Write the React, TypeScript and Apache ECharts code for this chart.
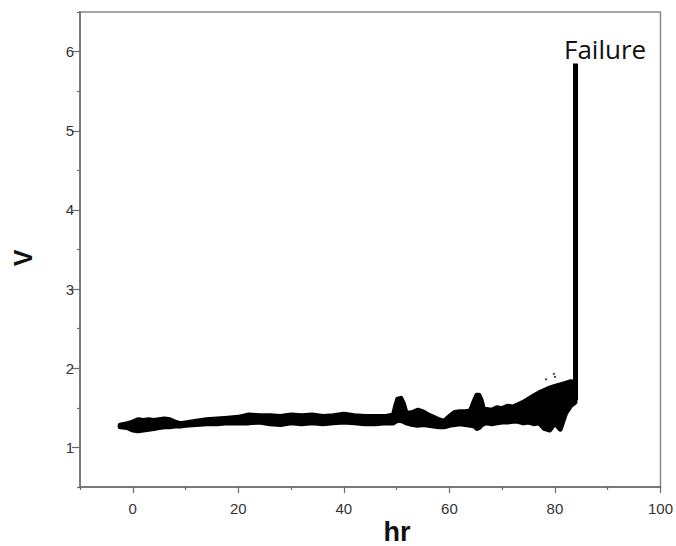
import React, { useEffect, useRef } from "react";
import * as echarts from "echarts";

// hr positions of the band samples
const hrs = [
  -2.4, -1, 0, 1, 2, 3, 4, 5, 6, 7, 8, 9, 10, 12, 14, 16, 18, 20, 22, 24, 26, 28, 30, 32, 34,
  36, 38, 40, 42, 44, 46, 48, 49.4, 49.8, 50.2, 50.8, 51.3, 51.8, 53, 54, 55, 56, 57, 58, 59, 60, 61,
  62, 63, 64, 64.8, 65.2, 65.6, 66, 66.5, 67, 68, 69, 70, 71, 72, 73, 74, 75, 76, 77, 78, 79,
  80, 81, 82, 83, 83.8,
];
// lower envelope of the noisy voltage trace (V)
const lowerV = [
  1.26, 1.25, 1.22, 1.21, 1.22, 1.23, 1.24, 1.25, 1.26, 1.26, 1.27, 1.27, 1.28, 1.29, 1.3, 1.3,
  1.31, 1.31, 1.31, 1.32, 1.3, 1.29, 1.31, 1.3, 1.31, 1.3, 1.31, 1.32, 1.31, 1.3, 1.3, 1.31, 1.31,
  1.33, 1.34, 1.34, 1.33, 1.31, 1.29, 1.28, 1.29, 1.28, 1.27, 1.26, 1.26, 1.28, 1.29, 1.3, 1.29,
  1.28, 1.27, 1.24, 1.25, 1.28, 1.3, 1.31, 1.3, 1.31, 1.32, 1.32, 1.33, 1.33, 1.31, 1.32, 1.3,
  1.31, 1.24, 1.22, 1.31, 1.23, 1.43, 1.53, 1.57,
];
// upper envelope of the noisy voltage trace (V)
const upperV = [
  1.28, 1.3, 1.32, 1.35, 1.34, 1.35, 1.34, 1.35, 1.36, 1.35, 1.32, 1.3, 1.31, 1.33, 1.35, 1.36,
  1.37, 1.38, 1.41, 1.4, 1.4, 1.39, 1.41, 1.4, 1.41, 1.39, 1.4, 1.42, 1.4, 1.39, 1.39, 1.39, 1.41,
  1.52, 1.61, 1.62, 1.55, 1.43, 1.44, 1.47, 1.45, 1.41, 1.38, 1.35, 1.33, 1.39, 1.44, 1.45, 1.45,
  1.46, 1.6, 1.66, 1.66, 1.6, 1.47, 1.48, 1.47, 1.5, 1.49, 1.52, 1.51, 1.54, 1.57, 1.61, 1.65,
  1.69, 1.72, 1.75, 1.77, 1.79, 1.81, 1.83, 1.82,
];
// failure spike
const spikeHr = [83.9, 83.9];
const spikeV = [1.6, 5.85];
// stray points above the band
const strayHr = [78.3, 79.8, 80.0];
const strayV = [1.86, 1.93, 1.89];

const xMajor = [0, 20, 40, 60, 80, 100];
const xMinor = [-10, 10, 30, 50, 70, 90];
const yMajor = [1, 2, 3, 4, 5, 6];
const yMinor = [0.5, 1.5, 2.5, 3.5, 4.5, 5.5, 6.5];

export default function App() {
  const ref = useRef<HTMLDivElement>(null);
  useEffect(() => {
    if (!ref.current) return;
    const chart = echarts.init(ref.current, null, { renderer: "svg" });
    const bandData = hrs.map((h, i) => [h, lowerV[i], upperV[i]]);
    const axisColor = "#6b6b6b";
    const labelStyle = { color: "#333", fontSize: 15, fontFamily: "Liberation Sans, Arial, sans-serif" };
    chart.setOption({
      animation: false,
      backgroundColor: "#fff",
      grid: { left: 80, right: 15, top: 12, bottom: 59, show: true, borderColor: "#8a8a8a", borderWidth: 1.5, containLabel: false },
      xAxis: [
        {
          type: "value", min: -10, max: 100, interval: 10, position: "bottom",
          splitLine: { show: false },
          axisLine: { onZero: false, lineStyle: { color: axisColor, width: 1.5 } },
          axisTick: { customValues: xMajor, length: 6, lineStyle: { color: axisColor, width: 1.2 } },
          axisLabel: { customValues: xMajor, margin: 14, ...labelStyle },
        },
        {
          type: "value", min: -10, max: 100, interval: 10, position: "bottom",
          splitLine: { show: false },
          axisLine: { show: false, onZero: false },
          axisTick: { customValues: xMinor, length: 3, lineStyle: { color: axisColor, width: 1.2 } },
          axisLabel: { show: false },
        },
      ],
      yAxis: [
        {
          type: "value", min: 0.5, max: 6.5, interval: 0.5, position: "left",
          splitLine: { show: false },
          axisLine: { onZero: false, lineStyle: { color: axisColor, width: 1.5 } },
          axisTick: { customValues: yMajor, length: 8, lineStyle: { color: axisColor, width: 1.2 } },
          axisLabel: { customValues: yMajor, margin: 6, ...labelStyle },
        },
        {
          type: "value", min: 0.5, max: 6.5, interval: 0.5, position: "left",
          splitLine: { show: false },
          axisLine: { show: false, onZero: false },
          axisTick: { customValues: yMinor, length: 3, lineStyle: { color: axisColor, width: 1.2 } },
          axisLabel: { show: false },
        },
      ],
      graphic: [
        {
          type: "text", x: 397, y: 532,
          style: { text: "hr", fontSize: 27, fontWeight: "bold", fontFamily: "Liberation Sans, Arial, sans-serif", fill: "#111", textAlign: "center", textVerticalAlign: "middle" },
        },
        {
          type: "text", x: 23, y: 258, rotation: Math.PI / 2,
          style: { text: "V", fontSize: 25, fontWeight: "bold", fontFamily: "Liberation Sans, Arial, sans-serif", fill: "#111", textAlign: "center", textVerticalAlign: "middle" },
        },
        {
          type: "text", x: 564, y: 49,
          style: { text: "Failure", fontSize: 26, fontFamily: "Open Sans, Noto Sans, sans-serif", fill: "#111", textAlign: "left", textVerticalAlign: "middle" },
        },
      ],
      series: [
        {
          type: "custom",
          data: bandData,
          encode: { x: 0, y: [1, 2] },
          renderItem: (params: any, api: any) => {
            if (params.dataIndex !== 0) return null;
            const up = bandData.map((d) => api.coord([d[0], d[2]]));
            const lo = bandData.map((d) => api.coord([d[0], d[1]])).reverse();
            return {
              type: "polygon",
              shape: { points: up.concat(lo) },
              style: { fill: "#000", stroke: "#000", lineWidth: 5, lineJoin: "round" },
            };
          },
        },
        {
          type: "line", data: spikeHr.map((h, i) => [h, spikeV[i]]), symbol: "none",
          lineStyle: { color: "#000", width: 5 },
        },
        {
          type: "scatter", data: strayHr.map((h, i) => [h, strayV[i]]), symbolSize: 2,
          itemStyle: { color: "#000" },
        },
      ],
    });
    return () => chart.dispose();
  }, []);
  return <div ref={ref} style={{ position: "fixed", left: 0, top: 0, width: 676, height: 546 }} />;
}
